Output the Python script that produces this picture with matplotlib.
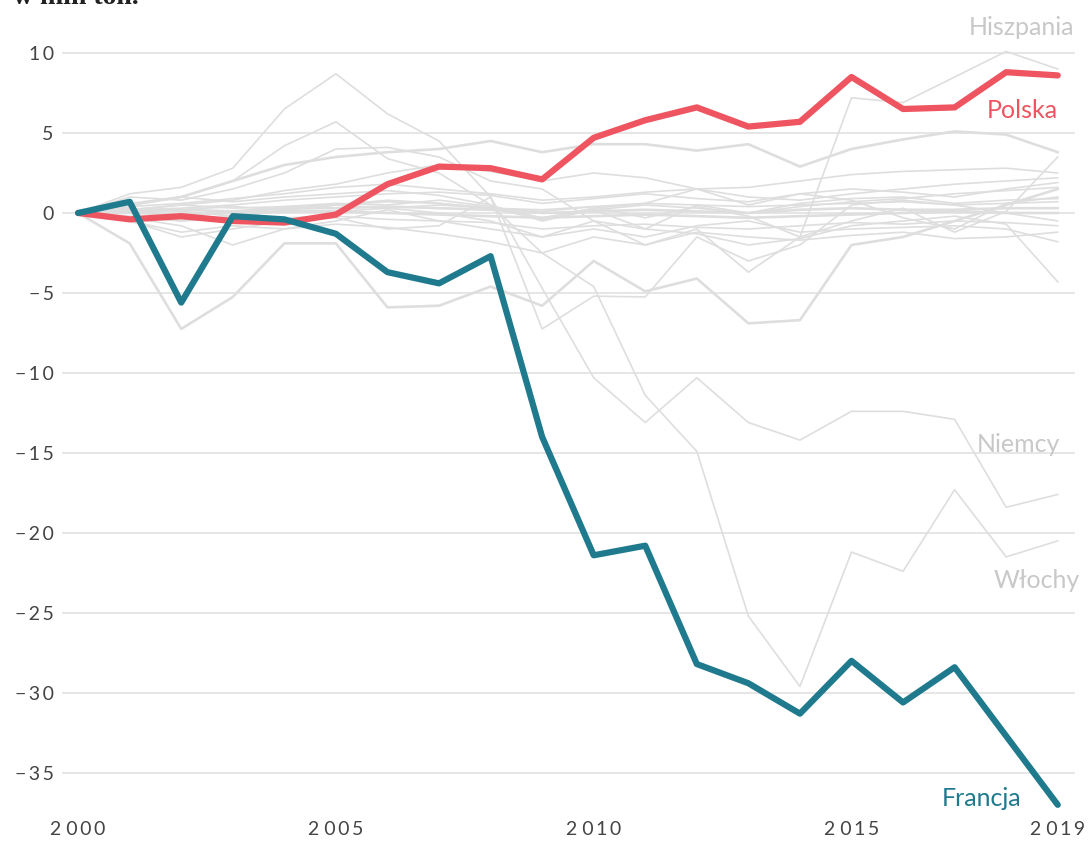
import numpy as np
import matplotlib.pyplot as plt

# lata
years = list(range(2000, 2020))

# kraje wyróżnione
francja = [0, 0.7, -5.6, -0.2, -0.4, -1.3, -3.7, -4.4, -2.7, -14.0,
           -21.4, -20.8, -28.2, -29.4, -31.3, -28.0, -30.6, -28.4, -32.7, -37.0]
polska = [0, -0.4, -0.2, -0.5, -0.6, -0.1, 1.8, 2.9, 2.8, 2.1,
          4.7, 5.8, 6.6, 5.4, 5.7, 8.5, 6.5, 6.6, 8.8, 8.6]

# pozostałe kraje (szare tło)
niemcy = [0, 1.2, 1.6, 2.8, 6.5, 8.7, 6.2, 4.5, 1.0, -4.7,
          -10.3, -13.1, -10.3, -13.1, -14.2, -12.4, -12.4, -12.9, -18.4, -17.6]
wlochy = [0, 0.5, 1.0, 2.0, 4.2, 5.7, 3.4, 2.5, 0.5, -2.5,
          -4.6, -11.4, -14.9, -25.2, -29.6, -21.2, -22.4, -17.3, -21.5, -20.5]
hiszpania = [0, 1.0, 0.8, 1.5, 2.5, 4.0, 4.1, 3.5, 2.0, 1.5,
             -0.5, -2.0, -1.0, -3.7, -1.5, 7.2, 6.9, 8.5, 10.1, 9.0]
inne_grube = [
    [0, -1.9, -7.25, -5.25, -1.9, -1.9, -5.9, -5.8, -4.6, -5.8, -3.0, -4.9, -4.1, -6.9, -6.7, -2.0, -1.5, -0.5, 0.5, 1.5],
    [0, 0.5, 1.0, 2.0, 3.0, 3.5, 3.8, 4.0, 4.5, 3.8, 4.3, 4.3, 3.9, 4.3, 2.9, 4.0, 4.6, 5.1, 4.9, 3.8],
    [0, 0.1, 0.2, 0.1, 0.3, 0.3, 0.4, 0.3, 0.2, 0.0, 0.1, 0.2, 0.1, 0.0, 0.2, 0.3, 0.2, 0.2, 0.3, 0.3],
    [0, 0.0, -0.1, 0.0, 0.1, 0.1, 0.0, -0.1, -0.2, -0.3, -0.2, -0.1, -0.2, -0.3, -0.2, -0.1, 0.0, 0.1, 0.0, 0.0],
]
inne = [
    [0, -0.5, -1.5, -1.0, -0.5, -0.3, -1.0, -0.8, 1.0, -7.25, -5.2, -5.25, -1.5, -3.0, -2.0, 0.5, 0.8, 0.5, 0.0, -0.5],
    [0, 0.3, -0.5, -0.3, 0.2, 0.5, 0.3, 0.0, -0.5, -1.5, -0.5, -1.0, -1.3, -2.0, -1.6, -0.8, -0.5, -0.2, -0.7, -4.3],
    [0, 0.2, 0.5, 0.3, 0.4, 0.5, 0.7, 0.6, 0.3, 0.2, 0.4, -0.3, 0.4, -0.2, -1.5, -0.5, 0.3, -1.2, 0.1, 3.5],
    [0, 0.4, 0.6, 0.9, 1.2, 1.6, 1.8, 1.5, 1.2, 0.8, 1.0, 1.3, 1.5, 1.6, 2.0, 2.4, 2.6, 2.7, 2.8, 2.5],
    [0, 0.2, 0.3, 0.5, 0.8, 1.0, 1.2, 1.3, 1.1, 0.6, 0.9, 1.2, 0.9, 0.7, 1.2, 1.5, 1.3, 1.0, 1.5, 1.9],
    [0, -0.3, -0.5, -0.2, 0.2, 0.5, 0.8, 0.6, 0.3, -0.4, 0.2, 0.5, 0.3, 0.0, 0.4, 0.7, 0.9, 1.2, 1.4, 1.6],
    [0, -0.2, -0.4, -0.5, -0.3, -0.2, -0.4, -0.5, -0.6, -1.0, -0.8, -0.7, -0.9, -1.0, -0.8, -0.6, -0.7, -0.5, -0.6, -0.8],
    [0, 0.3, 0.1, -0.2, 0.4, 0.6, 0.5, 0.8, 0.4, -0.3, 0.3, 0.6, 1.5, 0.5, 1.2, 0.8, -0.3, -1.0, 0.6, 1.0],
    [0, -0.5, -1.2, -0.8, -1.0, -0.7, -0.9, -1.3, -1.8, -2.5, -1.5, -2.0, -1.2, -1.5, -1.7, -1.4, -1.2, -1.6, -1.5, -1.2],
    [0, 0.6, 1.0, 0.7, 1.0, 1.2, 1.4, 1.1, 0.5, -0.5, 0.2, -1.0, 0.5, 0.0, 0.6, 0.9, 1.0, 0.6, 0.8, 0.9],
    [0, -0.3, -0.8, -2.0, -1.0, -0.5, 0.2, -0.5, -1.0, -1.5, -1.0, -1.5, -0.8, -0.5, -1.2, -1.0, -0.9, -0.8, -1.0, -1.8],
    [0, 0.2, 0.5, 0.8, 1.4, 1.8, 2.5, 3.0, 2.6, 2.0, 2.5, 2.2, 1.5, 1.0, 0.8, 1.2, 1.5, 1.8, 2.0, 2.2],
    [0, 0.0, 0.2, 0.4, 0.2, 0.1, 0.3, 0.5, 0.3, 0.1, 0.4, 0.6, 0.5, 0.4, 0.5, 0.6, 0.7, 0.5, 0.6, 0.7],
]

yticks = [10, 5, 0, -5, -10, -15, -20, -25, -30, -35]
xticks = [2000, 2005, 2010, 2015, 2019]

plt.rcParams['font.family'] = ['Lato', 'DejaVu Sans']


def rozstaw(txt):
    # odstęp między cyframi, jak w oryginale
    return '\u2009'.join(txt)


ylabels = [rozstaw(str(v).replace('-', '\u2212')) for v in yticks]
xlabels = [str(v)[0] + ' ' + rozstaw(str(v)[1:]) for v in xticks]

fig = plt.figure(figsize=(10.9, 8.41), dpi=100)
ax = fig.add_axes([0.057, 0.024, 0.929, 0.951])

szary = '#dedede'
for s in inne:
    ax.plot(years, s, color=szary, lw=1.2, zorder=2)
for s in inne_grube:
    ax.plot(years, s, color=szary, lw=1.9, zorder=2)
for s in [niemcy, wlochy, hiszpania]:
    ax.plot(years, s, color=szary, lw=1.2, zorder=2)

ax.plot(years, polska, color='#ee5560', lw=4.5, zorder=4, solid_capstyle='round')
ax.plot(years, francja, color='#1f7a8e', lw=4.5, zorder=5, solid_capstyle='round')

ax.set_xlim(1999.69, 2019.33)
ax.set_ylim(-38, 12)
ax.set_yticks(yticks)
ax.set_yticklabels(ylabels)
ax.set_xticks(xticks)
ax.set_xticklabels(xlabels)
ax.yaxis.grid(True, color='#e2e2e2', lw=1.2, zorder=0)
ax.set_axisbelow(True)
for sp in ax.spines.values():
    sp.set_visible(False)
ax.tick_params(axis='y', length=0, pad=6, labelsize=14, labelcolor='#444444')
ax.tick_params(axis='x', length=0, pad=0, labelsize=14, labelcolor='#444444')

# podpisy krajów
ax.text(2019.33, 11.6, 'Hiszpania', ha='right', va='center', fontsize=18, color='#c8c8c8')
ax.text(2019.0, 6.4, 'Polska', ha='right', va='center', fontsize=18, color='#ee5560')
ax.text(2019.05, -14.5, 'Niemcy', ha='right', va='center', fontsize=18, color='#c8c8c8')
ax.text(2019.42, -23.0, 'Włochy', ha='right', va='center', fontsize=18, color='#c8c8c8',
        clip_on=False)
ax.text(2018.3, -36.6, 'Francja', ha='right', va='center', fontsize=18, color='#1f7a8e')

fig.text(0.012, 0.995, 'w mln ton.', ha='left', va='baseline', fontsize=20,
         fontweight='bold', family='Liberation Serif', color='#222222')

fig.savefig('out.png', dpi=100)
